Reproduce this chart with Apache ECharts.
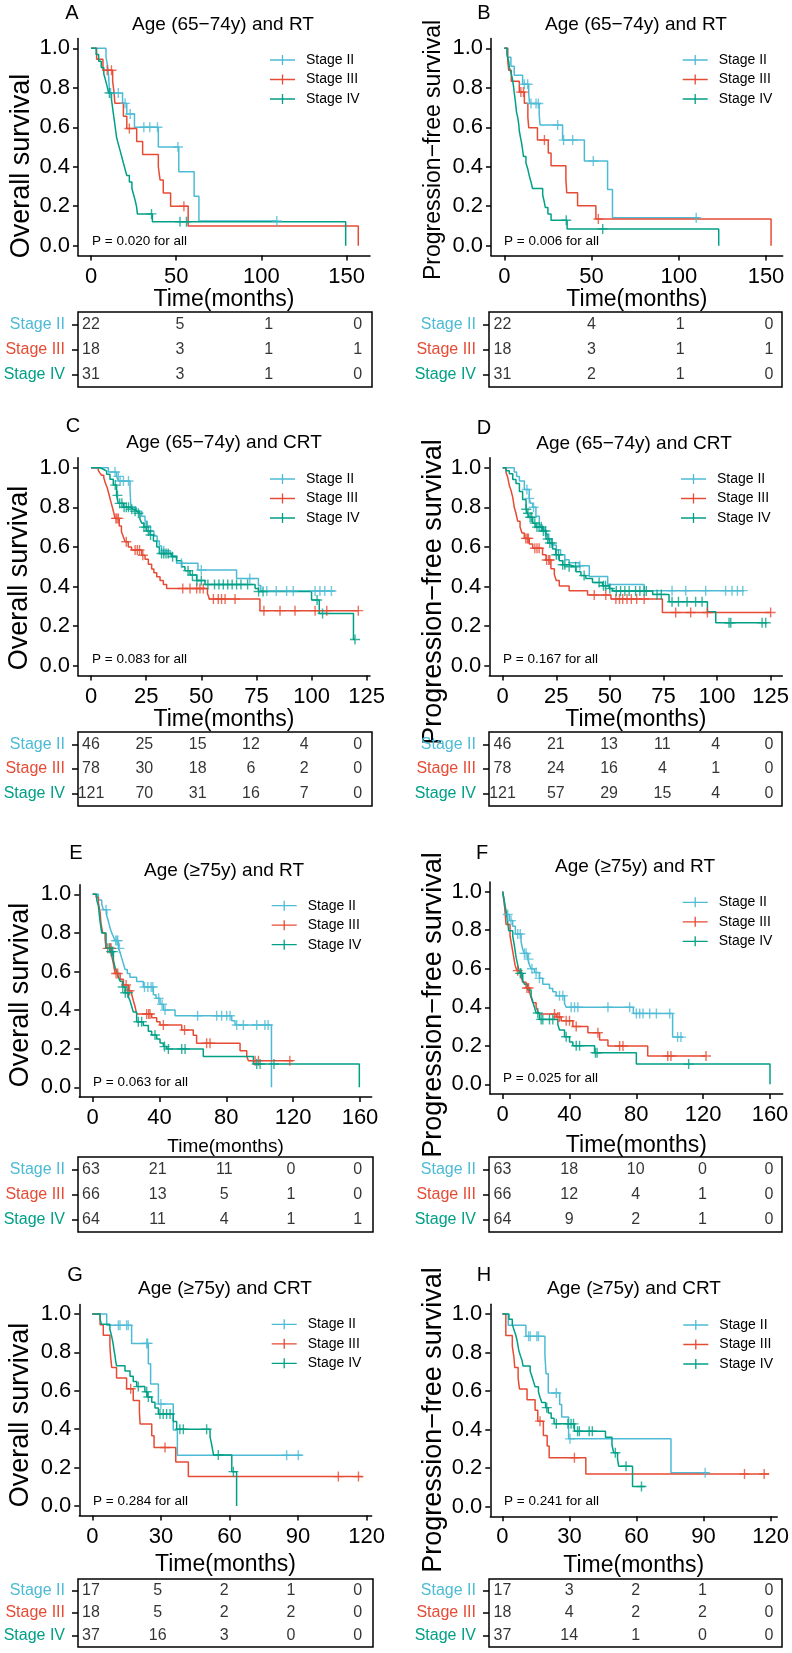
<!DOCTYPE html>
<html><head><meta charset="utf-8">
<script src="https://cdn.jsdelivr.net/npm/echarts@6/dist/echarts.min.js"></script>
<style>html,body{margin:0;padding:0;background:#fff}#c{width:792px;height:1653px}</style>
</head><body><div id="c"></div><script>
// ---------------- DATA ----------------
const stages = ['Stage II', 'Stage III', 'Stage IV'];
const panelLetters = ['A','B','C','D','E','F','G','H'];
const panelTitles = ['Age (65\u221274y) and RT','Age (65\u221274y) and RT','Age (65\u221274y) and CRT','Age (65\u221274y) and CRT',
  'Age (\u226575y) and RT','Age (\u226575y) and RT','Age (\u226575y) and CRT','Age (\u226575y) and CRT'];
const yTitles = ['Overall survival','Progression\u2212free survival','Overall survival','Progression\u2212free survival',
  'Overall survival','Progression\u2212free survival','Overall survival','Progression\u2212free survival'];
const xTitle = 'Time(months)';
const pTexts = ['P = 0.020 for all','P = 0.006 for all','P = 0.083 for all','P = 0.167 for all',
  'P = 0.063 for all','P = 0.025 for all','P = 0.284 for all','P = 0.241 for all'];
const yTicks = [0, 0.2, 0.4, 0.6, 0.8, 1.0];
const ticksAB = [0, 50, 100, 150];
const ticksCD = [0, 25, 50, 75, 100, 125];
const ticksEF = [0, 40, 80, 120, 160];
const ticksGH = [0, 30, 60, 90, 120];

const riskA = [[22,5,1,0],[18,3,1,1],[31,3,1,0]];
const riskB = [[22,4,1,0],[18,3,1,1],[31,2,1,0]];
const riskC = [[46,25,15,12,4,0],[78,30,18,6,2,0],[121,70,31,16,7,0]];
const riskD = [[46,21,13,11,4,0],[78,24,16,4,1,0],[121,57,29,15,4,0]];
const riskE = [[63,21,11,0,0],[66,13,5,1,0],[64,11,4,1,1]];
const riskF = [[63,18,10,0,0],[66,12,4,1,0],[64,9,2,1,0]];
const riskG = [[17,5,2,1,0],[18,5,2,2,0],[37,16,3,0,0]];
const riskH = [[17,3,2,1,0],[18,4,2,2,0],[37,14,1,0,0]];

// Kaplan-Meier steps: [time, survival after event]
const A_II = [[0,1],[8.8,0.955],[9.8,0.909],[10.3,0.864],[10.6,0.818],[10.9,0.773],[18.5,0.721],[21,0.667],[25.5,0.60],[39.5,0.50],[51.5,0.375],[60.5,0.25],[63.3,0.125],[109,0.125]];
const A_II_cens = [11.5,16,20,23,31,34.5,39,51,109];
const A_III = [[0,1],[3.3,0.944],[7,0.889],[12.7,0.833],[13.5,0.778],[14,0.722],[19,0.656],[21,0.594],[26.8,0.528],[30.3,0.462],[39.5,0.40],[40.5,0.333],[42.4,0.267],[46.7,0.20],[57,0.10],[156.8,0]];
const A_III_cens = [9.5,12,22.5,54.5];
const A_IV = [[0,1],[3,0.968],[4.5,0.935],[6,0.903],[7.5,0.871],[8.5,0.839],[9.5,0.806],[10.3,0.774],[12,0.742],[12.5,0.71],[13,0.677],[13.5,0.645],[14,0.613],[14.5,0.581],[15,0.548],[16,0.516],[17,0.484],[18,0.452],[19,0.419],[20,0.387],[21,0.355],[22.5,0.323],[24,0.29],[25,0.258],[26,0.226],[26.8,0.194],[27.2,0.161],[36,0.121],[149.4,0]];
const A_IV_cens = [10.8,35.5,52.2,56];

const B_II = [[0,1],[1.9,0.955],[3.8,0.909],[5.7,0.864],[10.5,0.818],[14,0.77],[14.5,0.72],[20,0.665],[20.5,0.611],[33.4,0.535],[45.9,0.429],[59.2,0.285],[62,0.142],[111.8,0.142]];
const B_II_cens = [11.5,13.4,15.3,18.2,19.5,30.6,34,39.2,51,110];
const B_III = [[0,1],[1.9,0.944],[2.5,0.889],[4,0.833],[8.6,0.778],[11.5,0.722],[13.5,0.65],[14,0.598],[19,0.535],[25.2,0.47],[26.8,0.405],[35.3,0.335],[35.8,0.268],[42,0.203],[52.5,0.135],[152.9,0]];
const B_III_cens = [9.5,11,23,53.9];
const B_IV = [[0,1],[1.5,0.968],[2.5,0.935],[2.9,0.903],[4,0.871],[4.8,0.839],[5.3,0.806],[5.7,0.774],[6.2,0.742],[6.6,0.71],[7,0.677],[7.8,0.645],[8.3,0.613],[8.6,0.581],[9.3,0.548],[10,0.516],[10.5,0.484],[11,0.452],[12.4,0.419],[13.5,0.387],[14.3,0.355],[15.3,0.323],[16.2,0.29],[22,0.258],[22.8,0.226],[23.5,0.194],[25,0.161],[26.8,0.129],[36,0.085],[122.9,0]];
const B_IV_cens = [35.5,56.4];

const C_II = [[0,1],[7.9,0.978],[11.6,0.956],[12.5,0.933],[17.7,0.889],[17.9,0.844],[18.1,0.80],[20.5,0.78],[23,0.755],[24.5,0.73],[25.5,0.705],[27,0.68],[28.5,0.655],[30,0.63],[31,0.605],[32,0.58],[36,0.555],[38.8,0.517],[48.5,0.483],[66,0.44],[75.9,0.405],[77,0.377],[110.6,0.377]];
const C_II_cens = [10.9,12.4,13.2,14.7,17,33,41,50,72,79.7,84,88.7,91.7,101.6,103.8,106,109];
const C_III = [[0,1],[3.3,0.987],[4,0.974],[4.8,0.962],[5.8,0.949],[6.5,0.923],[7.4,0.897],[8,0.872],[8.6,0.846],[9.2,0.82],[9.8,0.795],[10.4,0.769],[10.9,0.744],[12.8,0.705],[13.8,0.677],[14.7,0.65],[15.5,0.626],[16.9,0.60],[18.4,0.584],[23,0.558],[24.5,0.537],[26,0.513],[27.5,0.489],[28.5,0.469],[29.8,0.449],[31.3,0.43],[32.8,0.41],[34.3,0.39],[52.8,0.365],[53.7,0.337],[76.6,0.278],[121.2,0.278]];
const C_III_cens = [11.3,11.8,12.4,16,20,21,22,23.5,41.6,44.9,47.9,49.4,50.9,55.5,57.7,59.2,60.8,65.3,78.4,85.7,92.5,101.6,106.9,121.2];
const C_IV = [[0,1],[4,0.992],[5.6,0.983],[7.1,0.967],[8.6,0.942],[10.1,0.912],[11.6,0.86],[12.4,0.82],[14.7,0.80],[17.7,0.79],[19.2,0.78],[20.7,0.77],[22.2,0.74],[23,0.72],[24,0.70],[25.2,0.68],[26.8,0.66],[28.3,0.63],[29.8,0.60],[31,0.567],[36.6,0.55],[38.8,0.53],[41.1,0.50],[42.6,0.48],[44.9,0.458],[47.9,0.43],[51.7,0.41],[74.4,0.39],[75.9,0.375],[100,0.332],[103.5,0.264],[119,0.132],[119.7,0.132]];
const C_IV_cens = [11,12,13,14,15,16,17,18.5,20,21.5,24,25,26,27,32,33,34,35,37,44,46,48,50,53,56,58,60,62,64,66,68,71,76,78,102.5,105,119.7];

const D_II = [[0,1],[5.4,0.978],[6.5,0.956],[7.8,0.933],[10.1,0.89],[12.4,0.845],[13,0.82],[14,0.80],[15.5,0.755],[17.1,0.71],[18.5,0.69],[20,0.665],[21.5,0.64],[23,0.61],[25,0.585],[27,0.56],[29,0.535],[31,0.52],[35.7,0.505],[40.4,0.45],[49,0.41],[66,0.379],[112.6,0.379]];
const D_II_cens = [11.3,12.4,14.4,36,79,85.4,94.7,104,107,109.5,112];
const D_III = [[0,1],[1.6,0.974],[2.4,0.949],[3.1,0.91],[3.9,0.885],[4.7,0.85],[5.4,0.80],[6.2,0.77],[7,0.73],[8.1,0.70],[9,0.67],[10.1,0.643],[12.4,0.615],[14,0.593],[18.6,0.56],[20.2,0.534],[22.5,0.49],[24.1,0.46],[25,0.43],[26.4,0.402],[31,0.379],[39.6,0.357],[50.5,0.337],[74.5,0.269],[125,0.269]];
const D_III_cens = [10.8,11.5,12,15,16,17,20.5,21.5,22,42.7,48.1,52.8,54.5,56,58,60,62.5,66,80.7,87.7,95.5,125];
const D_IV = [[0,1],[1.5,0.985],[3.1,0.97],[4.7,0.94],[6.2,0.92],[7.8,0.88],[9.3,0.84],[10.9,0.79],[11.6,0.77],[12.4,0.75],[14,0.72],[15.5,0.70],[18.6,0.68],[20.2,0.64],[21.7,0.62],[23.3,0.59],[24.8,0.56],[26.4,0.53],[28,0.51],[31,0.50],[34.2,0.475],[36.5,0.455],[38.8,0.44],[41.9,0.42],[46.6,0.404],[49.7,0.39],[51.2,0.377],[70,0.36],[77.6,0.323],[95.5,0.273],[99.4,0.217],[123.4,0.217]];
const D_IV_cens = [11,11.8,12.8,13.5,15,16,17,18,19,20,21,22,23,25,26,28,29,31,34,38,45,47,48,50,53,55,57,59,62,64,66,67,72,74,79,82,86,90,93,105.6,106.4,121,122.7];

const E_II = [[0,1],[3.4,0.97],[5.4,0.95],[6.4,0.92],[8.4,0.889],[9.4,0.86],[10.4,0.825],[11.4,0.80],[12.4,0.78],[13.4,0.76],[15.4,0.72],[16.4,0.70],[17.4,0.668],[18.4,0.64],[19.4,0.61],[20.7,0.59],[22.3,0.57],[26.3,0.548],[30.3,0.52],[36.3,0.48],[37.9,0.461],[40.3,0.43],[42.3,0.40],[49.3,0.371],[83.2,0.345],[85.2,0.323],[107,0]];
const E_II_cens = [8,13.8,14.5,15,16,31,33,35,36,39.5,41.5,43.3,62.8,74.2,77.2,80.2,82.2,86.2,90.2,98.2,103.1,105];
const E_III = [[0,1],[2,0.985],[3.4,0.955],[4.4,0.91],[5,0.845],[6,0.80],[7.4,0.77],[8,0.72],[11.4,0.68],[12.4,0.64],[13.4,0.59],[16.4,0.56],[18.4,0.53],[21.3,0.50],[23.3,0.482],[24.3,0.45],[25.3,0.42],[26.3,0.38],[35.3,0.36],[38.3,0.34],[40.3,0.323],[53.3,0.297],[60.2,0.27],[62.2,0.228],[88.2,0.19],[92.2,0.16],[93.2,0.138],[120,0.138]];
const E_III_cens = [9,10.5,11,14,15,20,22,32.3,33.5,34.3,42.3,55,68.2,70.2,97.2,99.2,118];
const E_IV = [[0,1],[2.4,0.97],[3.4,0.94],[4.4,0.86],[5.4,0.80],[8,0.72],[10.4,0.703],[12.4,0.66],[13.4,0.62],[14.4,0.60],[15.4,0.57],[16.4,0.55],[17.8,0.52],[19.4,0.49],[21.3,0.47],[22.3,0.45],[23.3,0.42],[24.3,0.39],[26.3,0.34],[30.3,0.32],[33.3,0.29],[35.3,0.271],[38.3,0.25],[40.3,0.23],[42.3,0.211],[44.3,0.199],[66.2,0.159],[96.2,0.121],[159.6,0]];
const E_IV_cens = [10,11,12,18,19.5,21,27.3,29.3,37.3,43,45.3,53.3,55.3,98.2,100.2,108.5];

const F_II = [[0,1],[1,0.93],[2,0.882],[4,0.85],[6,0.82],[7.6,0.78],[11,0.74],[12,0.70],[13,0.68],[15,0.65],[16,0.62],[17,0.60],[19,0.58],[22,0.55],[24,0.52],[28,0.498],[30,0.48],[32,0.46],[37,0.42],[38,0.40],[78.2,0.368],[101.7,0.245],[108,0.245]];
const F_II_cens = [3,5,9,10.5,13,14,15.5,17.5,20,22,34,36,41,43,45,63,76,80,82,84,88,92,100,104.7,106.7];
const F_III = [[0,1],[1,0.94],[2,0.83],[4.4,0.77],[5.4,0.72],[6.4,0.67],[7.4,0.62],[8.4,0.59],[11,0.56],[12,0.53],[14,0.50],[16,0.48],[17,0.45],[18,0.424],[20,0.40],[21,0.38],[22,0.365],[32,0.35],[35,0.33],[42,0.30],[51,0.268],[58,0.23],[63,0.199],[86.8,0.147],[121.7,0.147]];
const F_III_cens = [9,14.5,15.5,31,33,34,38,40,44,57,70,72,98.8,100.7,121.7];
const F_IV = [[0,1],[1,0.95],[2,0.90],[3,0.84],[3.6,0.797],[6,0.77],[7,0.72],[8,0.66],[9,0.62],[10,0.576],[12,0.54],[13,0.52],[15,0.49],[17,0.46],[18,0.43],[19,0.40],[20,0.37],[22,0.337],[33,0.31],[34,0.282],[37,0.247],[40,0.22],[42,0.20],[55,0.164],[80,0.105],[160,0]];
const F_IV_cens = [10.5,11,21,23,24,28,30,38,44,46,55.5,56.5,111.3];

const G_II = [[0,1],[6.3,0.941],[17.2,0.847],[24.5,0.741],[25.5,0.635],[28.9,0.531],[35.4,0.396],[37.2,0.264],[91.6,0.264]];
const G_II_cens = [11.4,12.1,15,15.7,23.8,24.2,30,85,90.1];
const G_III = [[0,1],[3.4,0.944],[4.8,0.889],[7.7,0.833],[8,0.778],[8.5,0.722],[10.6,0.667],[15,0.611],[17.9,0.549],[20.6,0.488],[20.9,0.427],[26,0.366],[27,0.305],[36.5,0.229],[42,0.153],[118.3,0.153]];
const G_III_cens = [16.8,31.8,107.6,116.4];
const G_IV = [[0,1],[3.4,0.973],[4,0.946],[7.7,0.919],[8.3,0.892],[8.8,0.865],[9.2,0.838],[9.5,0.811],[9.9,0.784],[10.2,0.757],[10.6,0.73],[14.3,0.703],[16.5,0.676],[17.9,0.649],[19.4,0.622],[23,0.595],[24,0.568],[26,0.54],[27.4,0.51],[28.9,0.479],[35.4,0.44],[36.9,0.40],[51.5,0.36],[52.2,0.32],[53,0.266],[61,0.179],[63.1,0]];
const G_IV_cens = [20.1,23.8,24.5,29.6,31,32.5,34,38.3,39.8,50,55.1,61.7];

const H_II = [[0,1],[2.6,0.941],[10.5,0.884],[19,0.786],[19.5,0.69],[20.5,0.59],[25.6,0.53],[26.5,0.465],[29.6,0.352],[75.4,0.176],[92.2,0.176]];
const H_II_cens = [11.7,12.4,15.4,16.1,24.1,30.2,90.7];
const H_III = [[0,1],[1.5,0.889],[4.4,0.833],[5.1,0.778],[5.5,0.722],[7,0.667],[7.6,0.611],[11,0.555],[14.6,0.50],[15.8,0.444],[18.3,0.37],[20,0.315],[20.9,0.254],[37.3,0.17],[119.3,0.17]];
const H_III_cens = [16.8,32.2,108.3,117.1];
const H_IV = [[0,1],[2.9,0.973],[4.4,0.946],[5.1,0.919],[5.9,0.892],[6.5,0.865],[6.9,0.838],[7.3,0.811],[8,0.784],[8.8,0.757],[9.2,0.73],[12.4,0.703],[13.2,0.676],[13.9,0.649],[14.6,0.622],[16.1,0.595],[16.8,0.568],[17.6,0.541],[19.3,0.514],[20.5,0.486],[21.8,0.459],[23.1,0.43],[32.2,0.392],[46.1,0.36],[49,0.32],[49.8,0.28],[51.5,0.245],[52,0.21],[58.2,0.105],[63.7,0.105]];
const H_IV_cens = [19.8,24.1,29.3,30.7,31.8,33.6,34.4,38.8,40.2,50.5,55.3,62.2];

// ---------------- ASSEMBLY ----------------
const curves = [[A_II,A_III,A_IV],[B_II,B_III,B_IV],[C_II,C_III,C_IV],[D_II,D_III,D_IV],
                [E_II,E_III,E_IV],[F_II,F_III,F_IV],[G_II,G_III,G_IV],[H_II,H_III,H_IV]];
const censors = [[A_II_cens,A_III_cens,A_IV_cens],[B_II_cens,B_III_cens,B_IV_cens],[C_II_cens,C_III_cens,C_IV_cens],[D_II_cens,D_III_cens,D_IV_cens],
                 [E_II_cens,E_III_cens,E_IV_cens],[F_II_cens,F_III_cens,F_IV_cens],[G_II_cens,G_III_cens,G_IV_cens],[H_II_cens,H_III_cens,H_IV_cens]];
const xTicksList = [ticksAB,ticksAB,ticksCD,ticksCD,ticksEF,ticksEF,ticksGH,ticksGH];
const risks = [riskA,riskB,riskC,riskD,riskE,riskF,riskG,riskH];

// ---------------- LAYOUT / STYLE ----------------
const FONT = '"Liberation Sans", Arial, Helvetica, sans-serif';
const colors = ['#4DBBD5', '#E64B35', '#00A087'];
const PLUS = 'path://M4.3,0H5.7V10H4.3Z M0,4.3H10V5.7H0Z';
const LEGEND_ICON = 'path://M0,4.35H25V5.65H0Z M11.85,0H13.15V10H11.85Z';

const plotLayout = [
  {l:78, r:370, x0:91, x1:346.7, y1:48.3, y0:245.7},
  {l:491, r:782.7, x0:504.3, x1:766, y1:48.3, y0:245.7},
  {l:78, r:370, x0:91, x1:366.7, y1:467.7, y0:665.7},
  {l:489.3, r:782.7, x0:502.7, x1:771, y1:467.7, y0:665.7},
  {l:79.3, r:371.7, x0:92.7, x1:360, y1:894.3, y0:1087.3},
  {l:490, r:782.7, x0:502.7, x1:770, y1:891.7, y0:1084.3},
  {l:79.3, r:371.7, x0:92.3, x1:366.7, y1:1314, y0:1506},
  {l:490.3, r:782.7, x0:502.7, x1:776, y1:1314, y0:1506.7}
];
const tableLayout = [
  {l:78, r:372, x0:91, x1:357.6, top:312, bottom:387},
  {l:489, r:782, x0:502.5, x1:769, top:312, bottom:387},
  {l:78, r:372, x0:91, x1:357.6, top:732, bottom:806},
  {l:489, r:782, x0:502.5, x1:769, top:732, bottom:806},
  {l:78, r:373, x0:91, x1:357.6, top:1157, bottom:1232},
  {l:489, r:782, x0:502.5, x1:769, top:1157, bottom:1232},
  {l:78, r:373, x0:91, x1:357.6, top:1579, bottom:1647},
  {l:489, r:782, x0:502.5, x1:769, top:1579, bottom:1647}
];
const letterPos = [[72,13],[484,13],[73,426],[484,428],[76,853],[482,853],[75,1275],[484,1275]];
const titlePos = [[223,25],[636,25],[224,443],[634,444],[224,871],[635,867],[225,1289],[634,1289]];
const yTitlePos = [[22,166],[434,150],[20,578],[434,592],[21,995],[434,1005],[21,1415],[434,1420]];
const yTitleSize = [27,23,27,27,27,27,27,27];
const pPos = [[92,241],[504,241],[92,659],[503,659],[93,1082],[503,1078],[93,1501],[504,1501]];
const legendPos = [[270,53],[682.7,53],[270,472],[681,472],[271.7,898.7],[682.7,895.3],[271.7,1317.3],[683.3,1318]];
const xNameGap = [33,33,32,32,40,40,38,38];
const xNameSize = [23,23,23,23,19,23,23,23];

function survAt(steps, t) {
  let s = 1;
  for (const [tt, ss] of steps) { if (tt <= t) s = ss; else break; }
  return s;
}

const option = {
  animation: false,
  backgroundColor: '#fff',
  textStyle: {fontFamily: FONT},
  grid: [], xAxis: [], yAxis: [], series: [], legend: [],
  graphic: {elements: []}
};

for (let i = 0; i < 8; i++) {
  const L = plotLayout[i];
  const ticks = xTicksList[i];
  const tMax = ticks[ticks.length - 1];
  const ppu = (L.x1 - L.x0) / tMax;
  const yUnit = L.y0 - L.y1;
  const gi = option.grid.length;
  option.grid.push({left: L.l, top: L.y1 - 0.05 * yUnit, width: L.r - L.l, height: 1.1 * yUnit, containLabel: false});
  option.xAxis.push({
    type: 'value', gridIndex: gi,
    min: -(L.x0 - L.l) / ppu, max: tMax + (L.r - L.x1) / ppu,
    axisLine: {show: true, onZero: false, lineStyle: {color: '#000', width: 1.5}},
    axisTick: {show: true, customValues: ticks, length: 5, lineStyle: {color: '#000', width: 1.5}},
    axisLabel: {customValues: ticks, color: '#000', fontSize: 22, margin: 10, fontFamily: FONT},
    splitLine: {show: false},
    name: xTitle, nameLocation: 'middle', nameGap: xNameGap[i],
    nameTextStyle: {fontSize: xNameSize[i], color: '#000', fontFamily: FONT}
  });
  option.yAxis.push({
    type: 'value', gridIndex: gi, min: -0.05, max: 1.05,
    axisLine: {show: true, onZero: false, lineStyle: {color: '#000', width: 1.5}},
    axisTick: {show: true, customValues: yTicks, length: 5, lineStyle: {color: '#000', width: 1.5}},
    axisLabel: {customValues: yTicks, color: '#000', fontSize: 22, margin: 8, fontFamily: FONT,
                formatter: v => Number(v).toFixed(1)},
    splitLine: {show: false}
  });
  for (let k = 0; k < 3; k++) {
    const steps = curves[i][k];
    option.series.push({
      type: 'line', name: stages[k], xAxisIndex: gi, yAxisIndex: gi,
      data: steps, step: 'end', symbol: 'none', silent: true, z: 2,
      lineStyle: {color: colors[k], width: 1.5}, itemStyle: {color: colors[k]}
    });
    option.series.push({
      type: 'scatter', name: stages[k], xAxisIndex: gi, yAxisIndex: gi, silent: true, z: 3,
      data: censors[i][k].map(t => [t, survAt(steps, t)]),
      symbol: PLUS, symbolSize: 10, itemStyle: {color: colors[k]}
    });
  }
  option.legend.push({
    data: stages.map(s => ({name: s, icon: LEGEND_ICON})),
    orient: 'vertical', left: legendPos[i][0], top: legendPos[i][1], padding: 0,
    itemWidth: 25, itemHeight: 10, itemGap: 5.5, selectedMode: false,
    textStyle: {fontSize: 14, color: '#000', fontFamily: FONT, lineHeight: 14, padding: [0, 0, 0, 6]}
  });

  // risk table
  const T = tableLayout[i];
  const tppu = (T.x1 - T.x0) / tMax;
  const ti = option.grid.length;
  option.grid.push({left: T.l, top: T.top, width: T.r - T.l, height: T.bottom - T.top,
                    show: true, borderColor: '#000', borderWidth: 1.5, backgroundColor: 'transparent'});
  option.xAxis.push({type: 'value', gridIndex: ti, show: false,
                     min: -(T.x0 - T.l) / tppu, max: tMax + (T.r - T.x1) / tppu});
  option.yAxis.push({
    type: 'category', gridIndex: ti, data: stages, inverse: true, position: 'left',
    axisLine: {show: false, onZero: false},
    axisTick: {show: true, alignWithLabel: true, inside: false, length: 6, lineStyle: {color: '#000', width: 1.5}},
    axisLabel: {fontSize: 16, margin: 13, fontFamily: FONT,
                color: v => colors[stages.indexOf(v)]},
    splitLine: {show: false}
  });
  const rdata = [];
  risks[i].forEach((row, k) => row.forEach((n, j) => rdata.push([ticks[j], k, n])));
  option.series.push({
    type: 'scatter', xAxisIndex: ti, yAxisIndex: ti, silent: true, data: rdata,
    symbolSize: 1, itemStyle: {color: 'rgba(0,0,0,0)'},
    label: {show: true, position: 'inside', formatter: p => String(p.value[2]),
            color: '#000', fontSize: 16, fontFamily: FONT}
  });

  const G = option.graphic.elements;
  G.push({type: 'text', x: letterPos[i][0], y: letterPos[i][1],
          style: {text: panelLetters[i], fontSize: 20, fontFamily: FONT, fill: '#000',
                  textAlign: 'center', textVerticalAlign: 'middle', align: 'center', verticalAlign: 'middle'}});
  G.push({type: 'text', x: titlePos[i][0], y: titlePos[i][1],
          style: {text: panelTitles[i], fontSize: 19, fontFamily: FONT, fill: '#000',
                  textAlign: 'center', textVerticalAlign: 'middle', align: 'center', verticalAlign: 'middle'}});
  G.push({type: 'text', x: yTitlePos[i][0], y: yTitlePos[i][1], rotation: Math.PI / 2,
          style: {text: yTitles[i], fontSize: yTitleSize[i], fontFamily: FONT, fill: '#000',
                  textAlign: 'center', textVerticalAlign: 'middle', align: 'center', verticalAlign: 'middle'}});
  G.push({type: 'text', x: pPos[i][0], y: pPos[i][1],
          style: {text: pTexts[i], fontSize: 13.5, fontFamily: FONT, fill: '#000',
                  textAlign: 'left', textVerticalAlign: 'middle', align: 'left', verticalAlign: 'middle'}});
}

const chart = echarts.init(document.getElementById('c'), null, {renderer: 'canvas'});
chart.setOption(option);
</script></body></html>
